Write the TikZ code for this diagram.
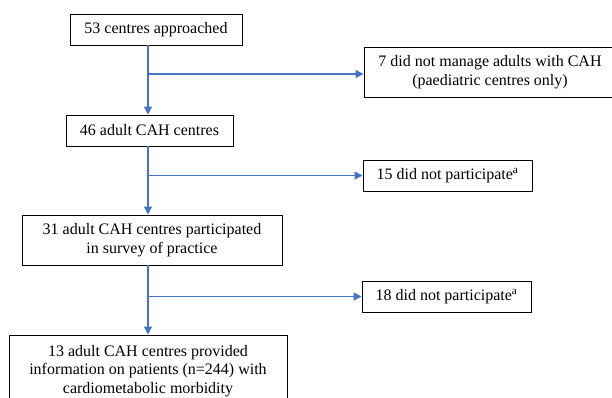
\documentclass[tikz,border=0pt]{standalone}
\usepackage{fontspec}
\setmainfont{Liberation Serif}
\usetikzlibrary{arrows.meta}
\definecolor{flowblue}{HTML}{4472C4}
\tikzset{
  box/.style={draw=black, line width=1pt, fill=white, inner sep=0pt, align=center,
    font=\fontsize{16}{18.5}\selectfont},
  arr/.style={draw=flowblue, line width=1.4pt, -{Triangle[length=8pt,width=8pt]}},
  trunk/.style={draw=flowblue, line width=1.4pt}
}
\begin{document}
\begin{tikzpicture}[x=1pt,y=-1pt]
\path[use as bounding box] (0,0) rectangle (612,397);
\clip (0,0) rectangle (612,397);
\node[box, minimum width=172pt, minimum height=31pt] (b1) at (156,29.5) {53 centres approached};
\node[box, minimum width=252pt, minimum height=50pt] (b7) at (490,72) {7 did not manage adults with CAH\\(paediatric centres only)};
\node[box, minimum width=167pt, minimum height=31pt] (b2) at (149.5,130.5) {46 adult CAH centres};
\node[box, minimum width=169pt, minimum height=31pt] (b15) at (447.5,175.5) {15 did not participate\textsuperscript{a}};
\node[box, minimum width=260pt, minimum height=50pt] (b3) at (152,240) {31 adult CAH centres participated\\in survey of practice};
\node[box, minimum width=169pt, minimum height=31pt] (b18) at (446.5,296.5) {18 did not participate\textsuperscript{a}};
\node[box, minimum width=278pt, minimum height=72pt] (b4) at (148,371) {13 adult CAH centres provided\\information on patients (n=244) with\\cardiometabolic morbidity};
\coordinate (t1) at (148,45);
\coordinate (j1) at (148,74);
\coordinate (t2) at (148,146);
\coordinate (j2) at (148,175.5);
\coordinate (t3) at (148,265);
\coordinate (j3) at (148,296.5);
\draw[arr] (t1) -- (t1 |- b2.north);
\draw[arr] (j1) -- (j1 -| b7.west);
\draw[arr] (t2) -- (t2 |- b3.north);
\draw[arr] (j2) -- (j2 -| b15.west);
\draw[arr] (t3) -- (t3 |- b4.north);
\draw[arr] (j3) -- (j3 -| b18.west);
\end{tikzpicture}
\end{document}
